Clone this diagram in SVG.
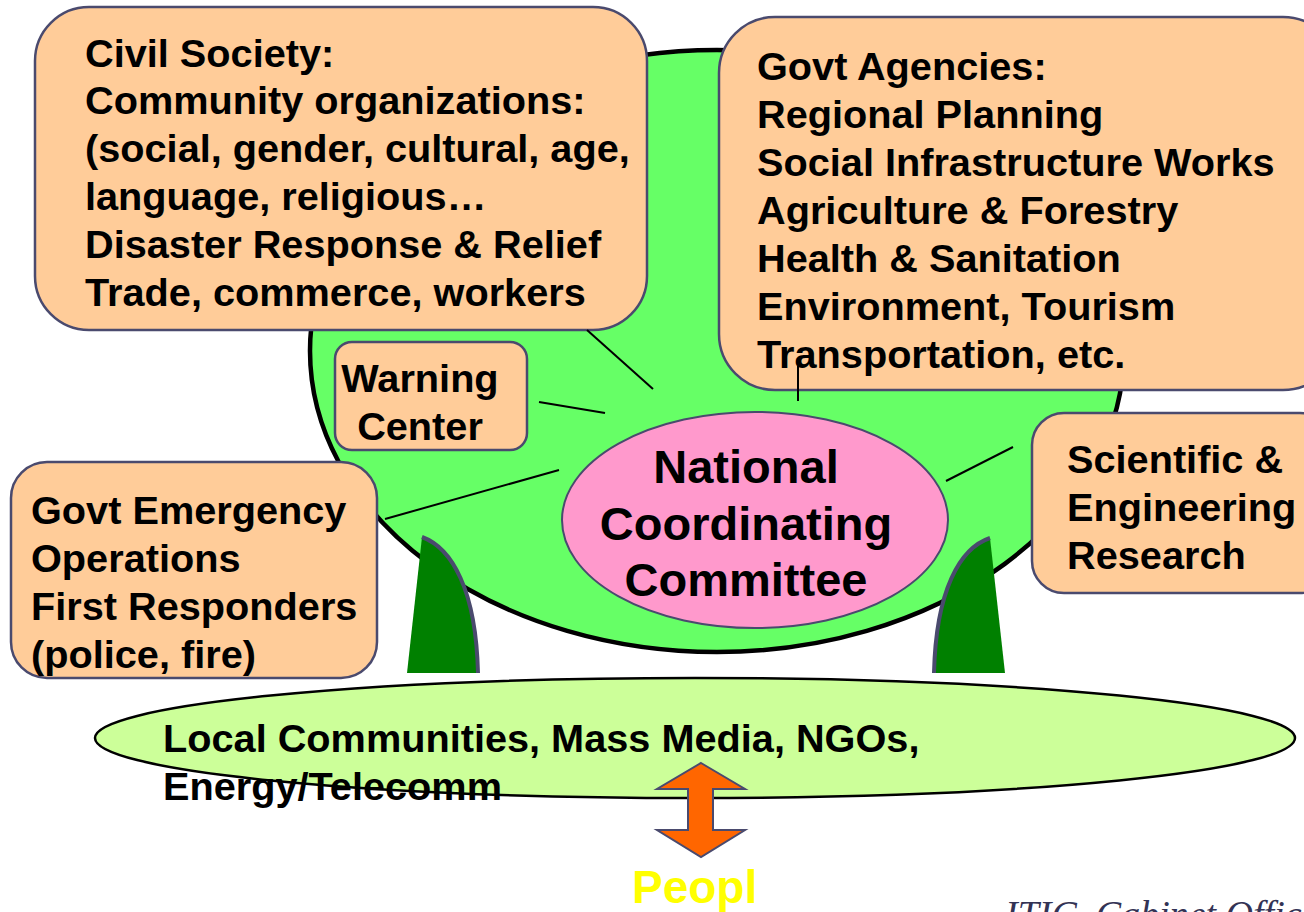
<svg xmlns="http://www.w3.org/2000/svg" width="1304" height="912" viewBox="0 0 1304 912">
<defs>
<style>
.box{fill:#FFCC99;stroke:#4a4a6e;stroke-width:2.5}
.t{font-family:"Liberation Sans",Arial,sans-serif;font-weight:bold;font-size:39.7px;fill:#000}
.conn{stroke:#000;stroke-width:2;fill:none}
.leg{fill:#008000;stroke:none}
.legedge{fill:none;stroke:#4a4a6e;stroke-width:4}
</style>
</defs>
<rect width="1304" height="912" fill="#fff"/>
<g id="tree">
<ellipse cx="717" cy="351" rx="407" ry="301" fill="#66FF66" stroke="#000" stroke-width="4.5"/>
</g>
<g id="leg-left">
<path class="leg" d="M422,537 C452,548 476,590 478,673 L407,673 Z"/>
<path class="legedge" d="M422,537 C452,548 476,590 478,673"/>
</g>
<g id="leg-right">
<path class="leg" d="M990,538 C960,548 936,590 934,673 L1005,673 Z"/>
<path class="legedge" d="M990,538 C960,548 936,590 934,673"/>
</g>
<g id="ncc">
<ellipse cx="755" cy="520" rx="193" ry="108" fill="#FF99CC" stroke="#4a4a6e" stroke-width="2"/>
<text class="t" style="font-size:47px" text-anchor="middle"><tspan x="746" y="483">National</tspan><tspan x="746" y="540">Coordinating</tspan><tspan x="746" y="596">Committee</tspan></text>
</g>
<g id="civil-society">
<rect class="box" x="35" y="7" width="612" height="323" rx="54"/>
<text class="t"><tspan x="85" y="67">Civil Society:</tspan><tspan x="85" y="114">Community organizations:</tspan><tspan x="85" y="162">(social, gender, cultural, age,</tspan><tspan x="85" y="210">language, religious…</tspan><tspan x="85" y="258">Disaster Response &amp; Relief</tspan><tspan x="85" y="306">Trade, commerce, workers</tspan></text>
</g>
<g id="govt-agencies">
<rect class="box" x="719" y="17" width="620" height="373" rx="56"/>
<text class="t"><tspan x="757" y="80">Govt Agencies:</tspan><tspan x="757" y="128">Regional Planning</tspan><tspan x="757" y="176">Social Infrastructure Works</tspan><tspan x="757" y="224">Agriculture &amp; Forestry</tspan><tspan x="757" y="272">Health &amp; Sanitation</tspan><tspan x="757" y="320">Environment, Tourism</tspan><tspan x="757" y="368">Transportation, etc.</tspan></text>
</g>
<g id="warning-center">
<rect class="box" x="335" y="342" width="192" height="108" rx="17"/>
<text class="t" text-anchor="middle"><tspan x="420" y="392">Warning</tspan><tspan x="420" y="440">Center</tspan></text>
</g>
<g id="govt-emergency">
<rect class="box" x="11" y="462" width="366" height="216" rx="36"/>
<text class="t"><tspan x="31" y="524">Govt Emergency</tspan><tspan x="31" y="572">Operations</tspan><tspan x="31" y="620">First Responders</tspan><tspan x="31" y="668">(police, fire)</tspan></text>
</g>
<g id="scientific">
<rect class="box" x="1032" y="413" width="300" height="180" rx="32"/>
<text class="t"><tspan x="1067" y="473">Scientific &amp;</tspan><tspan x="1067" y="521">Engineering</tspan><tspan x="1067" y="569">Research</tspan></text>
</g>
<g id="local">
<ellipse cx="695" cy="738" rx="600" ry="60" fill="#CCFF99" stroke="#000" stroke-width="2.5"/>
<text class="t"><tspan x="163" y="752">Local Communities, Mass Media, NGOs,</tspan><tspan x="163" y="800">Energy/Telecomm</tspan></text>
</g>
<g id="connectors">
<line class="conn" x1="587" y1="330" x2="653" y2="389"/>
<line class="conn" x1="539" y1="402" x2="605" y2="413"/>
<line class="conn" x1="385" y1="519" x2="559" y2="470"/>
<line class="conn" x1="798" y1="366" x2="798" y2="401"/>
<line class="conn" x1="946" y1="481" x2="1013" y2="447"/>
<path d="M701,763 L745,789 L713,789 L713,830 L745,830 L701,857 L657,830 L688,830 L688,789 L657,789 Z" fill="#FF6600" stroke="#4a4a6e" stroke-width="2"/>
</g>
<g id="people">
<text class="t" x="632" y="903" style="font-size:46px;fill:#FFFF00">Peopl</text>
</g>
<g id="credit">
<text x="1005" y="927" style="font-family:'Liberation Serif','Times New Roman',serif;font-style:italic;font-size:38px;fill:#333355">ITIC, Cabinet Office</text>
</g>
</svg>
